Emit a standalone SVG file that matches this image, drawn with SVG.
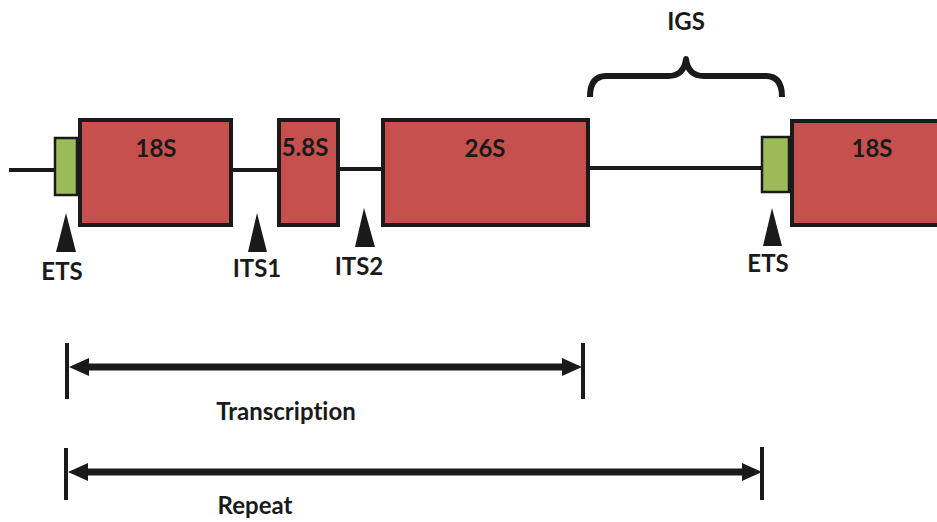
<svg xmlns="http://www.w3.org/2000/svg" width="937" height="522" viewBox="0 0 937 522">
  <style>
    .gene { fill: #C5504E; stroke: #1a1a1a; stroke-width: 4; }
    .spacer { fill: #9BBB59; stroke: #1a1a1a; stroke-width: 2.5; }
    .dna { stroke: #1a1a1a; stroke-width: 4; fill: none; }
    .pin { fill: #1a1a1a; }
    .lbl { font-family: Lato, "Open Sans", "Liberation Sans", sans-serif; font-weight: bold; font-size: 24px; fill: #1a1a1a; text-anchor: middle; font-variant-ligatures: none; }
    .span { stroke: #1a1a1a; stroke-width: 7; fill: none; }
    .tick { stroke: #1a1a1a; stroke-width: 4; }
    .brace { stroke: #1a1a1a; stroke-width: 6; fill: none; stroke-linejoin: round; }
  </style>
  <defs>
    <marker id="head" viewBox="0 0 20 18" refX="4" refY="9" markerWidth="20" markerHeight="18" markerUnits="userSpaceOnUse" orient="auto-start-reverse">
      <path d="M0,0 L20,9 L0,18 z" fill="#1a1a1a"/>
    </marker>
  </defs>
  <rect width="937" height="522" fill="#ffffff"/>

  <!-- backbone DNA segments -->
  <g id="connectors">
    <line class="dna" x1="9" y1="170" x2="55" y2="170"/>
    <line class="dna" x1="231" y1="170" x2="281" y2="170"/>
    <line class="dna" x1="336" y1="169" x2="385" y2="169"/>
    <line class="dna" x1="586" y1="168" x2="762" y2="168"/>
  </g>

  <g id="ets-left">
    <rect class="spacer" x="55" y="138" width="22" height="57"/>
    <polygon class="pin" points="66,213 56,252 76,252"/>
    <text class="lbl" x="62" y="280">ETS</text>
  </g>

  <g id="rrna-18s">
    <rect class="gene" x="80" y="120" width="151" height="105"/>
    <text class="lbl" x="156" y="157">18S</text>
  </g>

  <g id="its1">
    <polygon class="pin" points="257,213 248,252 267,252"/>
    <text class="lbl" x="257" y="277">ITS1</text>
  </g>

  <g id="rrna-5-8s">
    <rect class="gene" x="279" y="120" width="59" height="105"/>
    <text class="lbl" x="305" y="156">5.8S</text>
  </g>

  <g id="its2">
    <polygon class="pin" points="364,208 355,247 375,247"/>
    <text class="lbl" x="359" y="275">ITS2</text>
  </g>

  <g id="rrna-26s">
    <rect class="gene" x="383" y="120" width="205" height="105"/>
    <text class="lbl" x="485" y="157">26S</text>
  </g>

  <g id="igs">
    <path class="brace" d="M590,97 Q590,76 606,76 L668,76 Q684,76 686,59 Q688,76 704,76 L766,76 Q782,76 782,97"/>
    <text class="lbl" x="686" y="30">IGS</text>
  </g>

  <g id="ets-right">
    <rect class="spacer" x="762" y="137" width="27" height="55"/>
    <polygon class="pin" points="772,208 763,246 782,246"/>
    <text class="lbl" x="768" y="272">ETS</text>
  </g>

  <g id="rrna-18s-next">
    <rect class="gene" x="792" y="121" width="160" height="104"/>
    <text class="lbl" x="872" y="157">18S</text>
  </g>

  <g id="transcription">
    <line class="tick" x1="67" y1="343" x2="67" y2="399"/>
    <line class="tick" x1="583" y1="343" x2="583" y2="399"/>
    <line class="span" x1="85" y1="367" x2="566" y2="367" marker-start="url(#head)" marker-end="url(#head)"/>
    <text class="lbl" x="286" y="420">Transcription</text>
  </g>

  <g id="repeat">
    <line class="tick" x1="66" y1="448" x2="66" y2="500"/>
    <line class="tick" x1="762" y1="447" x2="762" y2="500"/>
    <line class="span" x1="84" y1="472" x2="746" y2="472" marker-start="url(#head)" marker-end="url(#head)"/>
    <text class="lbl" x="255" y="514">Repeat</text>
  </g>
</svg>
